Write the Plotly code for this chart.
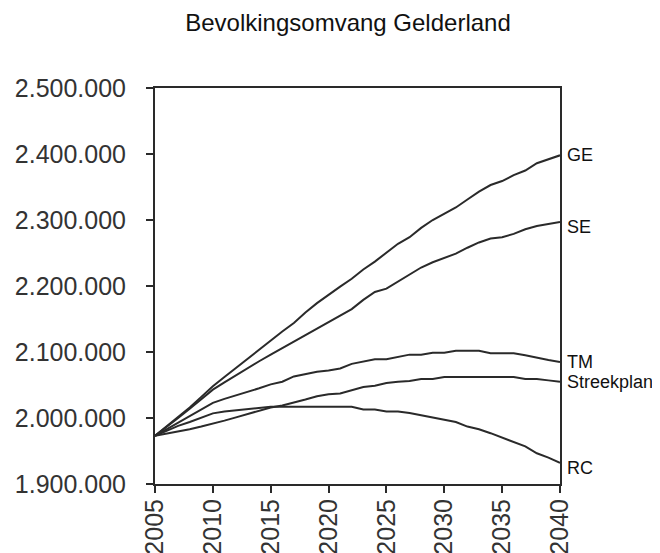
import plotly.graph_objects as go

years = list(range(2005, 2041))

ge = [1973000, 1987000, 2001000, 2016000, 2032000, 2048000, 2062000, 2076000, 2090000, 2104000,
      2118000, 2131000, 2144000, 2160000, 2174000, 2187000, 2199000, 2211000, 2225000, 2237000,
      2250000, 2264000, 2274000, 2288000, 2300000, 2309000, 2319000, 2331000, 2343000, 2353000,
      2359000, 2368000, 2375000, 2386000, 2392000, 2398000]

se = [1973000, 1986000, 2000000, 2014000, 2029000, 2043000, 2054000, 2065000, 2076000, 2086000,
      2096000, 2106000, 2116000, 2126000, 2136000, 2146000, 2156000, 2165000, 2179000, 2191000,
      2196000, 2207000, 2218000, 2228000, 2236000, 2243000, 2249000, 2258000, 2266000, 2272000,
      2274000, 2279000, 2286000, 2291000, 2294000, 2297000]

tm = [1973000, 1983000, 1993000, 2003000, 2013000, 2023000, 2029000, 2034000, 2040000, 2045000,
      2051000, 2055000, 2063000, 2067000, 2070000, 2072000, 2075000, 2082000, 2085000, 2089000,
      2089000, 2092000, 2096000, 2096000, 2099000, 2099000, 2102000, 2102000, 2102000, 2098000,
      2098000, 2098000, 2095000, 2091000, 2088000, 2085000]

streekplan = [1973000, 1976000, 1980000, 1983000, 1987000, 1991000, 1996000, 2001000, 2006000, 2011000,
              2016000, 2019000, 2023000, 2028000, 2033000, 2036000, 2037000, 2042000, 2047000, 2049000,
              2053000, 2055000, 2056000, 2059000, 2059000, 2062000, 2062000, 2062000, 2062000, 2062000,
              2062000, 2062000, 2059000, 2059000, 2057000, 2055000]

rc = [1973000, 1981000, 1988000, 1994000, 2001000, 2007000, 2010000, 2012000, 2014000, 2016000,
      2017000, 2017000, 2017000, 2017000, 2017000, 2017000, 2017000, 2017000, 2013000, 2013000,
      2010000, 2010000, 2007500, 2004000, 2000500, 1998000, 1994000, 1987000, 1983000, 1977000,
      1970000, 1964000, 1957000, 1946500, 1940000, 1932000]

series_names = ["GE", "SE", "TM", "Streekplan", "RC"]
series_values = [ge, se, tm, streekplan, rc]
label_shift = [0, -5, 0, 0, -5]

y_ticks = [1900000, 2000000, 2100000, 2200000, 2300000, 2400000, 2500000]
x_ticks = [2005, 2010, 2015, 2020, 2025, 2030, 2035, 2040]

ink = "#2a2a2a"
font = "Liberation Sans, Arial, Helvetica, sans-serif"

fig = go.Figure()
for name, vals in zip(series_names, series_values):
    fig.add_trace(go.Scatter(x=years, y=vals, mode="lines", name=name,
                             line=dict(color=ink, width=2), showlegend=False))

for name, vals, sh in zip(series_names, series_values, label_shift):
    fig.add_annotation(x=years[-1], y=vals[-1], text=name, showarrow=False,
                       xanchor="left", yanchor="middle", xshift=5, yshift=sh,
                       font=dict(family=font, size=18, color="#111111"))

# the page body adds an 8px offset, so the margins are shifted up-left by 8px
fig.update_layout(
    width=660, height=553,
    margin=dict(l=147, r=108, t=80, b=77),
    paper_bgcolor="white", plot_bgcolor="white",
    separators=",.",
    title=dict(text="Bevolkingsomvang Gelderland", x=340/660, xref="container", xanchor="center",
               y=1-15/553, yref="container", yanchor="middle",
               font=dict(family=font, size=24, color="#111111")),
    font=dict(family=font, color="#333333"),
)
fig.update_xaxes(range=[2005, 2040], tickvals=x_ticks, tickangle=-90,
                 showline=True, mirror=True, linecolor=ink, linewidth=2,
                 ticks="outside", ticklen=7, tickwidth=2, tickcolor=ink,
                 showgrid=False, zeroline=False, automargin=False,
                 ticklabelstandoff=-4,
                 tickfont=dict(family=font, size=25, color="#333333"))
fig.update_yaxes(range=[1900000, 2500000], tickvals=y_ticks, tickformat=",d",
                 showline=True, mirror=True, linecolor=ink, linewidth=2,
                 ticks="outside", ticklen=7, tickwidth=2, tickcolor=ink,
                 showgrid=False, zeroline=False, automargin=False,
                 ticklabelstandoff=15,
                 tickfont=dict(family=font, size=25, color="#333333"))

fig.write_html("out.html")
